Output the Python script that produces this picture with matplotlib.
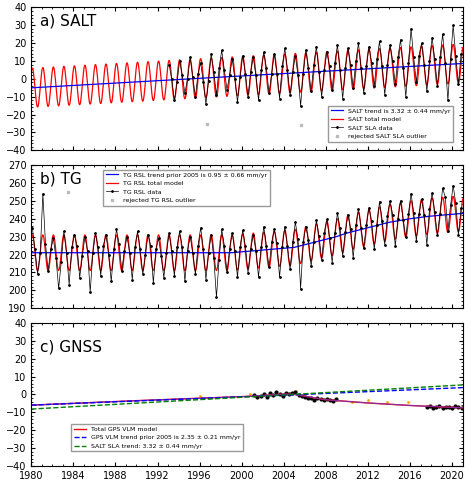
import numpy as np
import matplotlib.pyplot as plt

# ---------------- data ----------------
years = np.arange(1980, 2022)
salt_trend = -5 + 0.332 * (years - 1980)
salt_amp = 11.0
salt_data_years = np.arange(1993, 2021)
salt_data = [
 8,0,-12,-2, 10,2,-8,0, 12,1,-10,3, 9,-2,-14,-1, 14,4,-9,6, 16,5,-6,2, 11,0,-13,1,
 13,3,-10,4, 12,2,-12,5, 15,6,-8,3, 14,3,-11,7, 17,5,-9,4, 13,2,-15,3, 16,6,-7,8,
 18,4,-10,5, 15,7,-6,9, 19,5,-11,6, 17,8,-5,10, 20,6,-8,7, 18,9,-4,11, 21,7,-9,8,
 19,10,-3,12, 22,6,-10,9, 28,12,-2,13, 20,8,-7,10, 23,11,-4,12, 25,9,-12,11, 30,13,-3,14]
salt_outlier_t = [1996.7, 2005.6]
salt_outlier_v = [-25, -26]

tg_trend = [221,221,221,221,221,221,221,221,221,221,221,221,221,221,221,221,221,221,221,221,
            221.5,222,222.5,223,223.5,224,225.5,227,228.5,230,232,233.5,235,236.5,238,239,
            240,240.8,241.5,242,242.5,243]
tg_amp = 10.0
tg_anom = [
 14,2,-12,0, 33,5,-10,2, 8,-3,-20,-5, 12,0,-18,3, 10,4,-14,-2, 9,1,-22,0, 11,3,-13,4,
 10,-1,-16,2, 13,5,-10,1, 9,0,-15,3, 12,2,-12,-1, 10,4,-17,2, 8,-2,-14,0, 11,1,-13,3,
 12,3,-16,1, 9,0,-12,4, 14,2,-15,0, 10,-3,-25,-4, 13,4,-11,2, 11,1,-14,3, 12,3,-12,1,
 9,0,-15,2, 13,2,-10,4, 11,3,-16,1, 12,1,-12,3, 14,4,-24,2, 10,2,-13,0, 12,3,-11,4,
 11,0,-14,2, 13,4,-12,1, 10,2,-15,3, 12,1,-11,2, 11,3,-13,0, 13,2,-12,4, 12,4,-14,1,
 11,0,-10,3, 14,3,-13,2, 10,1,-16,4, 13,2,-11,1, 15,10,-9,5, 16,6,-12,3]
tg_outlier_t = [1983.5, 1997.9]
tg_outlier_v = [255, 190]

gnss_years = [1980, 1990, 2001, 2004, 2005, 2008, 2012, 2016, 2021]
gnss_model = [-6, -3.5, -1, 0.2, 0, -3, -4.8, -6.2, -7.5]
gps_trend_years = [1980, 2005, 2021]
gps_trend = [-6, -0.2, 3.8]
salt_sla_trend_years = [1980, 2021]
salt_sla_trend = [-8.2, 5.3]
gnss_pts_t = [2001.2,2001.5,2001.8,2002.1,2002.4,2002.7,2003.0,2003.3,2003.6,2003.9,2004.2,2004.5,
              2004.8,2005.1,2005.4,2005.7,2006.0,2006.3,2006.6,2006.9,2007.2,2007.5,2007.8,2008.1,
              2008.4,2008.7,2009.0,2017.6,2017.9,2018.2,2018.5,2018.8,2019.1,2019.4,2019.7,2020.0,
              2020.3,2020.6,2020.9]
gnss_pts_v = [-0.5,-1.5,-0.8,0.5,-1.2,0.8,-0.5,1.5,0.2,-1.0,1.0,0.0,0.8,1.2,-0.6,-1.0,-1.5,-2.2,
              -1.8,-3.0,-2.0,-2.6,-3.2,-2.4,-3.0,-3.5,-2.8,-7.2,-6.5,-7.8,-6.9,-6.3,-7.4,-6.8,-7.1,
              -7.6,-6.6,-7.0,-7.8]
gnss_orange_t = [1996.0, 2000.8, 2005.2, 2010.5, 2012.0, 2013.8, 2015.8, 2019.0]
gnss_orange_v = [-1.0, 0.5, 2.0, -4.0, -3.0, -4.5, -4.0, -7.0]

# ---------------- plotting ----------------
t = np.arange(1980, 2021.01, 1/24)
def seasonal(tt, amp):
    return amp * np.cos(2*np.pi*(tt - 1980.1))

fig = plt.figure(figsize=(4.74, 4.93), dpi=100)
axa = fig.add_axes([0.066, 0.695, 0.91, 0.29])
axb = fig.add_axes([0.066, 0.375, 0.91, 0.29])
axc = fig.add_axes([0.066, 0.055, 0.91, 0.29])

qoff = np.array([0.1, 0.35, 0.6, 0.85])

# SALT
st = np.interp(t, years, salt_trend)
axa.plot(t, st + seasonal(t, salt_amp), color='red', lw=0.9, label='SALT total model')
axa.plot(years, salt_trend, color='blue', lw=0.9, label='SALT trend is 3.32 ± 0.44 mm/yr')
sdt = (salt_data_years[:, None] + qoff[None, :]).ravel()
axa.plot(sdt, salt_data, color='black', lw=0.5, marker='.', ms=2, label='SALT SLA data')
axa.plot(salt_outlier_t, salt_outlier_v, 's', color='#bbbbbb', ms=2, label='rejected SALT SLA outlier')
axa.set_ylim(-40, 40); axa.set_yticks(range(-40, 41, 10))
h, l = axa.get_legend_handles_labels()
axa.legend([h[1], h[0], h[2], h[3]], [l[1], l[0], l[2], l[3]], loc='lower right', fontsize=4.5,
           fancybox=False, edgecolor='gray', bbox_to_anchor=(0.985, 0.04))
axa.text(0.02, 0.87, 'a) SALT', transform=axa.transAxes, fontsize=11)

# TG
tt = np.interp(t, years, tg_trend)
axb.plot(t, tt + seasonal(t, tg_amp), color='red', lw=0.9, label='TG RSL total model')
axb.plot(years, tg_trend, color='blue', lw=0.9, label='TG RSL trend prior 2005 is 0.95 ± 0.66 mm/yr')
tdt = (years[:-1, None] + qoff[None, :]).ravel()
tdv = np.interp(tdt, years, tg_trend) + np.array(tg_anom)
axb.plot(tdt, tdv, color='black', lw=0.5, marker='.', ms=2, label='TG RSL data')
axb.plot(tg_outlier_t, tg_outlier_v, 's', color='#bbbbbb', ms=2, label='rejected TG RSL outlier')
axb.set_ylim(190, 270); axb.set_yticks(range(190, 271, 10))
h, l = axb.get_legend_handles_labels()
axb.legend([h[1], h[0], h[2], h[3]], [l[1], l[0], l[2], l[3]], loc='upper left', fontsize=4.5,
           fancybox=False, edgecolor='gray', bbox_to_anchor=(0.16, 0.99))
axb.text(0.02, 0.87, 'b) TG', transform=axb.transAxes, fontsize=11)

# GNSS
axc.plot(gnss_orange_t, gnss_orange_v, '.', color='orange', ms=2)
axc.plot(gnss_pts_t, gnss_pts_v, '.', color='black', ms=4)
axc.plot(gnss_years, gnss_model, color='red', lw=1.0, label='Total GPS VLM model')
axc.plot(gnss_years, gnss_model, color='#6633cc', lw=0.8, alpha=0.8)
axc.plot(gps_trend_years, gps_trend, color='blue', lw=1.0, ls='--', label='GPS VLM trend prior 2005 is 2.35 ± 0.21 mm/yr')
axc.plot(salt_sla_trend_years, salt_sla_trend, color='green', lw=1.0, ls='--', label='SALT SLA trend: 3.32 ± 0.44 mm/yr')
axc.set_ylim(-40, 40); axc.set_yticks(range(-40, 41, 10))
axc.legend(loc='lower left', fontsize=4.5, fancybox=False, edgecolor='gray', bbox_to_anchor=(0.085, 0.08))
axc.text(0.02, 0.8, 'c) GNSS', transform=axc.transAxes, fontsize=11)

for ax in (axa, axb, axc):
    ax.set_xlim(1980, 2021)
    ax.set_xticks(range(1980, 2021, 4))
    ax.minorticks_on()
    ax.tick_params(which='both', direction='in', top=True, right=True, labelsize=7)
    ax.tick_params(which='major', length=3)
    ax.tick_params(which='minor', length=1.5)
axa.set_xticklabels([]); axb.set_xticklabels([])

fig.savefig('out.png', dpi=100)
